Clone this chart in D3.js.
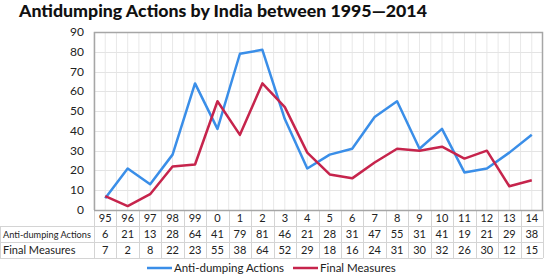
<!DOCTYPE html>
<html>
<head>
<meta charset="utf-8">
<script src="https://cdn.jsdelivr.net/npm/d3@7"></script>
<style>
  body { margin: 0; padding: 0; background: #fff; }
  svg { display: block; font-family: Lato, "Open Sans", sans-serif; }
</style>
</head>
<body>
<div id="main"></div>
<script>
const years = ['95', '96', '97', '98', '99', '0', '1', '2', '3', '4', '5', '6', '7', '8', '9', '10', '11', '12', '13', '14'];
const antiDumping = [6, 21, 13, 28, 64, 41, 79, 81, 46, 21, 28, 31, 47, 55, 31, 41, 19, 21, 29, 38];
const finalMeasures = [7, 2, 8, 22, 23, 55, 38, 64, 52, 29, 18, 16, 24, 31, 30, 32, 26, 30, 12, 15];
const yTicks = [0, 10, 20, 30, 40, 50, 60, 70, 80, 90];
const seriesNames = ['Anti-dumping Actions', 'Final Measures'];
const seriesColors = ['#3a8ee8', '#c6244c'];

const WIDTH = 545, HEIGHT = 274;
const PLOTLEFT = 94, PLOTRIGHT = 543, PLOTTOP = 32, PLOTBOTTOM = 210;
const ROWH = 16;

const svg = d3.select('#main').append('svg').attr('width', WIDTH).attr('height', HEIGHT);

const x = d3.scaleBand().domain(years).range([PLOTLEFT, PLOTRIGHT]).padding(0);
const y = d3.scaleLinear().domain([0, 90]).range([PLOTBOTTOM, PLOTTOP]);
const bw = x.bandwidth();

// title
const title = svg.append('text')
    .attr('x', 19).attr('y', 17)
    .attr('font-weight', 900).attr('font-size', 19).attr('fill', '#111')
    .text('Antidumping Actions by India between 1995\u20142014');
const tw = title.node().getComputedTextLength();
title.attr('font-size', 19 * 408 / tw);

// grid
const grid = svg.append('g');
const vLines = [];
years.forEach((d) => { vLines.push(x(d)); vLines.push(x(d) + bw / 2); });
grid.selectAll('line.v').data(vLines).enter().append('line')
    .attr('x1', (d) => d).attr('x2', (d) => d)
    .attr('y1', PLOTTOP).attr('y2', PLOTBOTTOM)
    .attr('stroke', '#e8e8e8').attr('stroke-width', 1);
grid.selectAll('line.h').data(yTicks.slice(1)).enter().append('line')
    .attr('x1', PLOTLEFT).attr('x2', PLOTRIGHT)
    .attr('y1', (d) => Math.round(y(d)) + 0.5).attr('y2', (d) => Math.round(y(d)) + 0.5)
    .attr('stroke', '#e4e4e4').attr('stroke-width', 1);

// plot border
svg.append('path')
    .attr('d', `M${PLOTLEFT + 0.5},${PLOTBOTTOM}V${PLOTTOP + 0.5}H${PLOTRIGHT - 0.5}V${PLOTBOTTOM}`)
    .attr('fill', 'none').attr('stroke', '#a6a6a6').attr('stroke-width', 1.5);

// y axis labels
svg.append('g').selectAll('text').data(yTicks).enter().append('text')
    .attr('x', 84).attr('y', (d) => y(d) + 4)
    .attr('text-anchor', 'end').attr('font-size', 12).attr('fill', '#222')
    .text((d) => d);

// table
const table = svg.append('g');
const tableBottom = PLOTBOTTOM + ROWH * 3;
const tableCols = years.map((d) => x(d)).concat([PLOTRIGHT]);
table.selectAll('line.col').data(tableCols).enter().append('line')
    .attr('x1', (d) => Math.round(d) + 0.5).attr('x2', (d) => Math.round(d) + 0.5)
    .attr('y1', PLOTBOTTOM).attr('y2', tableBottom)
    .attr('stroke', '#d4d4d4');
table.append('line').attr('x1', PLOTLEFT).attr('x2', PLOTRIGHT)
    .attr('y1', PLOTBOTTOM + 0.5).attr('y2', PLOTBOTTOM + 0.5).attr('stroke', '#a6a6a6').attr('stroke-width', 1.5);
table.selectAll('line.row').data([1, 2, 3]).enter().append('line')
    .attr('x1', 0).attr('x2', PLOTRIGHT)
    .attr('y1', (d) => PLOTBOTTOM + ROWH * d + 0.5).attr('y2', (d) => PLOTBOTTOM + ROWH * d + 0.5)
    .attr('stroke', '#d4d4d4');
table.append('line').attr('x1', 0.5).attr('x2', 0.5)
    .attr('y1', PLOTBOTTOM + ROWH).attr('y2', tableBottom).attr('stroke', '#d4d4d4');

table.selectAll('text.year').data(years).enter().append('text')
    .attr('x', (d) => x(d) + bw / 2).attr('y', PLOTBOTTOM + ROWH / 2 + 4)
    .attr('text-anchor', 'middle').attr('font-size', 11).attr('fill', '#222').text((d) => d);
[antiDumping, finalMeasures].forEach((vals, r) => {
    const rowY = PLOTBOTTOM + ROWH * (r + 1) + ROWH / 2 + 4;
    const lbl = table.append('text').attr('x', 3).attr('y', rowY)
        .attr('font-size', 11).attr('fill', '#222').text(seriesNames[r]);
    const lw = lbl.node().getComputedTextLength();
    // shrink wide label to fit the first column
    if (lw > 88) lbl.attr('font-size', 11 * 88 / lw);
    table.selectAll(`text.v${r}`).data(vals).enter().append('text')
        .attr('x', (d, i) => x(years[i]) + bw / 2).attr('y', rowY)
        .attr('text-anchor', 'middle').attr('font-size', 11).attr('fill', '#222').text((d) => d);
});

// lines
const line = d3.line().x((d, i) => x(years[i]) + bw / 2).y((d) => y(d));
[antiDumping, finalMeasures].forEach((vals, r) => {
    svg.append('path').datum(vals)
        .attr('d', line).attr('fill', 'none')
        .attr('stroke', seriesColors[r]).attr('stroke-width', 2.5)
        .attr('stroke-linejoin', 'round');
});

// legend
const legendData = [{ name: seriesNames[0], color: seriesColors[0], x: 147 }, { name: seriesNames[1], color: seriesColors[1], x: 293 }];
const legend = svg.append('g');
legendData.forEach((d) => {
    legend.append('line').attr('x1', d.x).attr('x2', d.x + 25).attr('y1', 268).attr('y2', 268)
        .attr('stroke', d.color).attr('stroke-width', 2.5);
    legend.append('text').attr('x', d.x + 27).attr('y', 272)
        .attr('font-size', 11.5).attr('fill', '#222').text(d.name);
});
</script>
</body>
</html>
